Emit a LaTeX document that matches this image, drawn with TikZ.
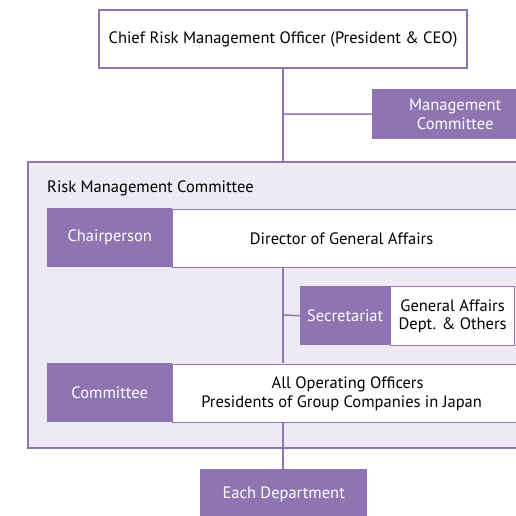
\documentclass[tikz,border=0pt]{standalone}
\usepackage{fontspec}
\setmainfont{PT Sans}
\definecolor{purp}{HTML}{8E75B1}
\definecolor{lav}{HTML}{EDEAF4}
\begin{document}
\begin{tikzpicture}[x=1pt,y=-1pt,
  purpbox/.style={fill=purp,draw=none,text=white,inner sep=0pt,font=\fontsize{16.5}{18.5}\selectfont,align=center},
  whitebox/.style={fill=white,draw=purp,line width=1.2pt,text=black,inner sep=0pt,font=\fontsize{16.5}{18.5}\selectfont,align=center},
  conn/.style={draw=purp,line width=1.5pt}]
\useasboundingbox (0,0) rectangle (516,515);
\fill[white] (0,0) rectangle (516,515);
% outer box
\node[draw=purp,fill=lav,line width=1.5pt,minimum width=492pt,minimum height=286pt,anchor=north west,inner sep=0pt] (rmc) at (27,161) {};
\node[anchor=west,font=\fontsize{16.5}{18.5}\selectfont,inner sep=0pt] (rmctitle) at (47,188) {Risk Management Committee};
% top
\node[whitebox,minimum width=368pt,minimum height=58pt] (cro) at (283,39) {Chief Risk Management Officer (President \& CEO)};
\node[purpbox,minimum width=144pt,minimum height=50pt,anchor=north west] (mc) at (372,89) {\hspace*{22pt}Management\\\hspace*{22pt}Committee};
\coordinate (j1) at (283,114);
\draw[conn] (cro.south) -- (rmc.north -| cro.south);
\draw[conn] (j1) -- (mc.west);
% chair row
\node[whitebox,minimum width=350pt,minimum height=58pt,anchor=north west] (dga) at (172,209) {Director of General Affairs\hspace*{12pt}};
\node[purpbox,minimum width=125pt,minimum height=59pt,anchor=north west] (chair) at (47,208) {Chairperson};
% secretariat
\node[whitebox,minimum width=124pt,minimum height=59pt,anchor=north west] (gad) at (390,286) {General Affairs\\Dept. \& Others};
\node[purpbox,minimum width=90pt,minimum height=59pt,anchor=north west] (sec) at (300,286) {Secretariat};
% committee row
\node[whitebox,minimum width=350pt,minimum height=58pt,anchor=north west] (aoo) at (172,364) {All Operating Officers\\Presidents of Group Companies in Japan\hspace*{12pt}};
\node[purpbox,minimum width=125pt,minimum height=59pt,anchor=north west] (comm) at (47,363) {Committee};
\coordinate (j2) at (283,315);
\draw[conn] (283,267) -- (283,363);
\draw[conn] (j2) -- (sec.west);
% each department
\node[purpbox,minimum width=167pt,minimum height=50pt,anchor=north west] (dept) at (200,469) {Each Department};
\draw[conn] (283,422) -- (dept.north -| 283,422);
\end{tikzpicture}
\end{document}
